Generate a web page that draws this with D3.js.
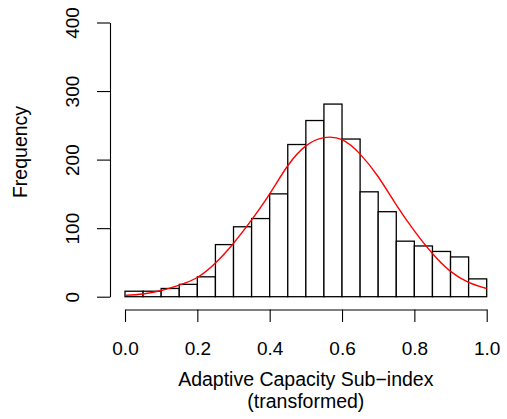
<!DOCTYPE html>
<html>
<head>
<meta charset="utf-8">
<script src="https://cdn.jsdelivr.net/npm/d3@7"></script>
<style>
  html, body { margin: 0; padding: 0; background: #fff; }
  svg { display: block; }
  text { font-family: "Liberation Sans", Arial, Helvetica, sans-serif; fill: #000; }
</style>
</head>
<body>
<svg id="chart" width="507" height="419"></svg>
<script>
// Histogram bins (left edges), width 0.05
const binStarts = [0.00, 0.05, 0.10, 0.15, 0.20, 0.25, 0.30, 0.35, 0.40, 0.45,
                   0.50, 0.55, 0.60, 0.65, 0.70, 0.75, 0.80, 0.85, 0.90, 0.95];
const binWidth = 0.05;
const counts = [8, 8, 12, 18, 29, 76, 102, 114, 150, 222,
                257, 281, 230, 153, 124, 81, 74, 66, 58, 26];

// Fitted curve, values
const curveX = [0.00, 0.05, 0.10, 0.15, 0.20, 0.25, 0.30, 0.35, 0.40, 0.45, 0.50,
                0.55, 0.60, 0.65, 0.70, 0.75, 0.80, 0.85, 0.90, 0.95, 1.00];
const curveY = [2, 4, 9, 17, 28, 49, 78, 112, 150, 191, 220,
                232, 229, 208, 175, 134, 96, 63, 37, 21, 12];

const xTicks = [0, 0.2, 0.4, 0.6, 0.8, 1.0];
const yTicks = [0, 100, 200, 300, 400];

const xLabelLines = ["Adaptive Capacity Sub\u2212index", "(transformed)"];
const yLabel = "Frequency";

const svg = d3.select("#chart");
const FS = 19;
const FT = 19.5;

const x = d3.scaleLinear().domain([0, 1]).range([125, 486.7]);
const y = d3.scaleLinear().domain([0, 400]).range([296.7, 22.5]);

// Bars
svg.append("g").selectAll("rect")
  .data(binStarts.map((s, i) => ({ s, c: counts[i] })))
  .join("rect")
  .attr("x", d => x(d.s))
  .attr("width", d => x(d.s + binWidth) - x(d.s))
  .attr("y", d => y(d.c))
  .attr("height", d => y(0) - y(d.c))
  .attr("fill", "#fff")
  .attr("stroke", "#000")
  .attr("stroke-width", 1.3);

// Curve
const line = d3.line()
  .x(d => x(d[0]))
  .y(d => y(d[1]))
  .curve(d3.curveNatural);
svg.append("path")
  .datum(curveX.map((v, i) => [v, curveY[i]]))
  .attr("d", line)
  .attr("fill", "none")
  .attr("stroke", "#ff0000")
  .attr("stroke-width", 1.4);

// X axis
const xAxisY = 309.5;
const gx = svg.append("g")
  .attr("transform", `translate(0,${xAxisY})`)
  .call(d3.axisBottom(x).tickValues(xTicks).tickFormat(d3.format(".1f"))
    .tickSize(12.5).tickSizeOuter(0));
gx.selectAll("path, line").attr("stroke", "#000").attr("stroke-width", 1.1);
gx.selectAll("text")
  .attr("y", 355 - xAxisY).attr("dy", null)
  .style("font-size", FS + "px");
gx.attr("font-family", null).attr("font-size", null);

// Y axis
const yAxisX = 110;
const gy = svg.append("g")
  .attr("transform", `translate(${yAxisX},0)`)
  .call(d3.axisLeft(y).tickValues(yTicks).tickFormat(d3.format("d"))
    .tickSize(13).tickSizeOuter(0));
gy.selectAll("path, line").attr("stroke", "#000").attr("stroke-width", 1.1);
gy.selectAll("text")
  .attr("x", null).attr("dy", null)
  .attr("text-anchor", "middle")
  .attr("transform", `translate(${79.3 - yAxisX},0) rotate(-90)`)
  .style("font-size", FS + "px");
gy.attr("font-family", null).attr("font-size", null);

// Axis titles
const xt = svg.append("text")
  .attr("text-anchor", "middle")
  .style("font-size", FT + "px");
xLabelLines.forEach((t, i) => {
  xt.append("tspan").attr("x", 305.8).attr("y", 386 + i * 21.5).text(t);
});

svg.append("text")
  .attr("text-anchor", "middle")
  .attr("transform", `translate(27,152) rotate(-90)`)
  .style("font-size", FT + "px")
  .text(yLabel);
</script>
</body>
</html>
